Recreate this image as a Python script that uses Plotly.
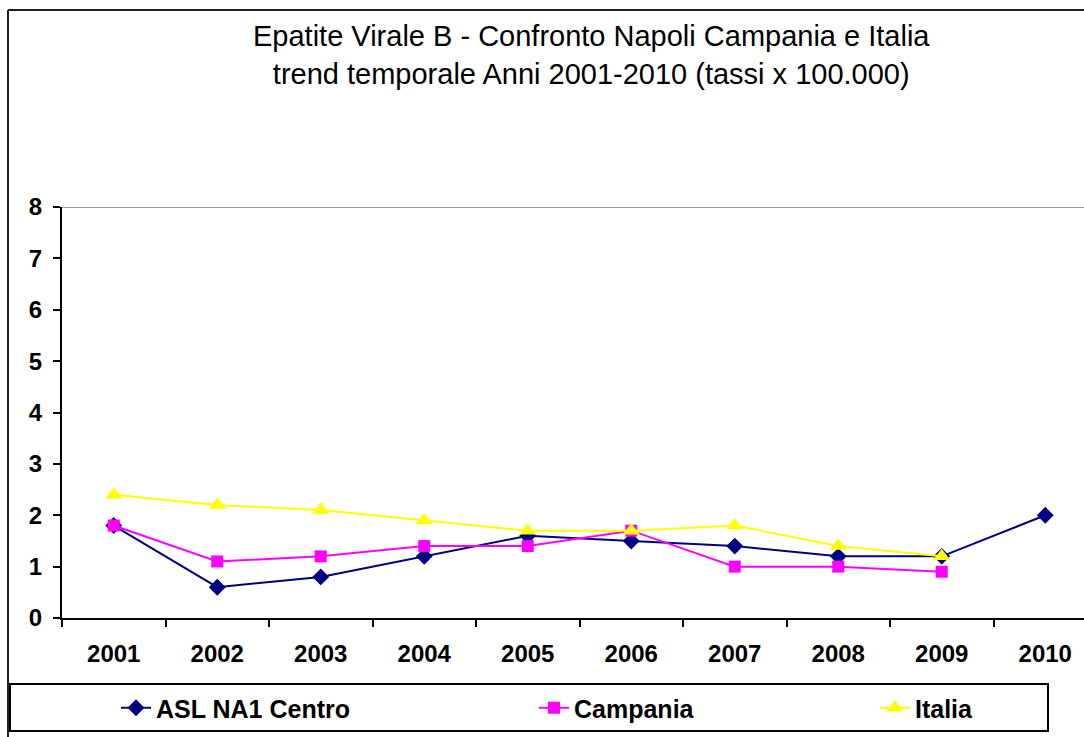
import plotly.graph_objects as go

years = ["2001", "2002", "2003", "2004", "2005", "2006", "2007", "2008", "2009", "2010"]
asl_na1 = [1.8, 0.6, 0.8, 1.2, 1.6, 1.5, 1.4, 1.2, 1.2, 2.0]
campania = [1.8, 1.1, 1.2, 1.4, 1.4, 1.7, 1.0, 1.0, 0.9, None]
italia = [2.4, 2.2, 2.1, 1.9, 1.7, 1.7, 1.8, 1.4, 1.2, None]

title_text = ("Epatite Virale B - Confronto Napoli Campania e Italia<br>"
              "trend temporale Anni 2001-2010 (tassi x 100.000)")

FONT = "Liberation Sans, Arial, sans-serif"
W, H = 1084, 737
L, R, T, B = 62, 0, 207, 119
PW = W - L - R
PH = H - T - B


def px(x):
    return (x - L) / PW


def py(y):
    return (H - B - y) / PH


fig = go.Figure()
fig.add_trace(go.Scatter(
    x=years, y=asl_na1, name="ASL NA1 Centro", mode="lines+markers",
    line=dict(color="#000080", width=2),
    marker=dict(symbol="diamond", size=13, color="#000080"),
    legend="legend"))
fig.add_trace(go.Scatter(
    x=years, y=campania, name="Campania", mode="lines+markers",
    line=dict(color="#FF00FF", width=2),
    marker=dict(symbol="square", size=12, color="#FF00FF"),
    legend="legend2"))
fig.add_trace(go.Scatter(
    x=years, y=italia, name="Italia", mode="lines+markers",
    line=dict(color="#FFFF00", width=2),
    marker=dict(symbol="triangle-up", size=15, color="#FFFF00"),
    legend="legend3"))

leg_common = dict(orientation="h", yanchor="middle", y=py(708), xanchor="left",
                  bgcolor="rgba(0,0,0,0)", borderwidth=0, itemwidth=30,
                  font=dict(family=FONT, size=25, color="black", weight="bold"))

fig.update_layout(
    width=W, height=H,
    margin=dict(l=L, r=R, t=T, b=B, pad=0),
    paper_bgcolor="white", plot_bgcolor="white",
    font=dict(family=FONT, color="black"),
    xaxis=dict(
        type="category", categoryorder="array", categoryarray=years,
        range=[-0.5, -0.5 + PW / 103.5],
        tickson="boundaries", ticks="outside", ticklen=7, tickwidth=2, tickcolor="black",
        showline=True, linecolor="black", linewidth=2, showgrid=False, zeroline=False,
        tickfont=dict(family=FONT, size=24, color="black", weight="bold"),
        ticklabelstandoff=13),
    yaxis=dict(
        range=[0, 8], dtick=1, tick0=0, ticks="outside", ticklen=7, tickwidth=2,
        tickcolor="black", showline=True, linecolor="black", linewidth=2,
        showgrid=False, zeroline=False,
        tickfont=dict(family=FONT, size=24, color="black", weight="bold"),
        ticklabelstandoff=6),
    legend=dict(leg_common, x=px(116)),
    legend2=dict(leg_common, x=px(534)),
    legend3=dict(leg_common, x=px(875)),
    showlegend=True,
)

fig.add_annotation(
    text=title_text, xref="paper", yref="paper", x=px(591), y=py(18),
    xanchor="center", yanchor="top", showarrow=False, align="center",
    font=dict(family=FONT, size=29, color="black"))

shapes = [
    dict(type="line", xref="paper", yref="y", x0=0, x1=1, y0=8, y1=8,
         line=dict(color="#808080", width=1.5)),
    dict(type="rect", xref="paper", yref="paper", x0=px(10), x1=px(1048),
         y0=py(731), y1=py(684), line=dict(color="black", width=2)),
    dict(type="line", xref="paper", yref="paper", x0=px(8), x1=px(8),
         y0=py(740), y1=py(10), line=dict(color="#202020", width=2)),
    dict(type="line", xref="paper", yref="paper", x0=px(8), x1=1.0,
         y0=py(10), y1=py(10), line=dict(color="#202020", width=2)),
]
fig.update_layout(shapes=shapes)

fig.write_html("out.html", config={"displayModeBar": False},
               post_script="document.body.style.margin='0';document.body.style.overflow='hidden';")
